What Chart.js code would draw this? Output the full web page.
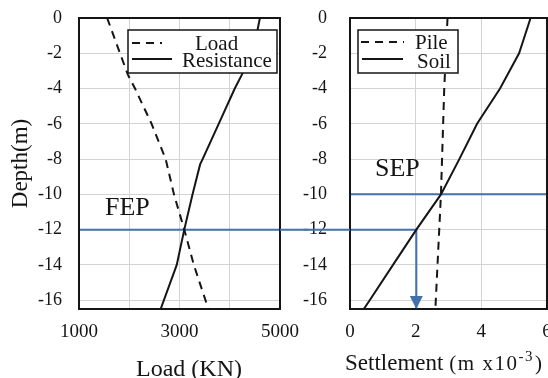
<!DOCTYPE html>
<html><head><meta charset="utf-8">
<script src="https://cdn.jsdelivr.net/npm/chart.js@4/dist/chart.umd.min.js"></script>
<style>
html,body{margin:0;padding:0;background:#fff;}
#wrap{position:relative;width:548px;height:378px;overflow:hidden;background:#fff;}
#c1{position:absolute;left:0;top:0;width:300px;height:378px;}
#c2{position:absolute;left:280px;top:0;width:268px;height:378px;}
</style></head><body>
<div id="wrap"><canvas id="c1" width="300" height="378"></canvas><canvas id="c2" width="268" height="378"></canvas></div>
<script>
// ---------- data ----------
const depthLoad      = [0, -3.2, -4, -6, -8, -10, -12, -14, -16.5];
const loadKN         = [1560, 1970, 2115, 2445, 2725, 2890, 3095, 3285, 3575];
const depthResist    = [0, -1, -2, -3, -4, -6, -8, -8.3, -10, -12, -14, -16.5];
const resistanceKN   = [4600, 4530, 4420, 4280, 4100, 3780, 3460, 3410, 3260, 3095, 2945, 2625];
const depthSoil      = [0, -2, -4, -6, -8, -10, -12, -14, -16, -16.5];
const soilSettle     = [5.5, 5.15, 4.57, 3.87, 3.33, 2.77, 2.02, 1.31, 0.6, 0.42];
const depthPile      = [0, -4, -10, -16.5];
const pileSettle     = [2.97, 2.87, 2.77, 2.6];
const depthTicks     = [0, -2, -4, -6, -8, -10, -12, -14, -16];
const loadGrid       = [1000, 2000, 3000, 4000, 5000];
const loadTickLabels = [1000, 3000, 5000];
const settleTicks    = [0, 2, 4, 6];
const depthRange     = [-16.5, 0];
const loadRange      = [1000, 5000];
const settleRange    = [0, 6];
const fepDepth = -12;      // FEP horizontal line
const sepDepth = -10;      // SEP horizontal line
const fepSettle = 2.02;    // settlement read at FEP depth (arrow)

// ---------- styles ----------
const FONT = "'Liberation Serif','Times New Roman',serif";
const BLACK = '#151515';
const BLUE = '#4271ad';
const GRID = '#d3d3d3';

function pts(xs, ys){ return xs.map((x,i)=>({x:x, y:ys[i]})); }
function fitTo(size, horiz){
  return function(s){
    if(horiz) s.height = size; else s.width = size;
    s.paddingLeft = 0; s.paddingRight = 0; s.paddingTop = 0; s.paddingBottom = 0;
  };
}
function lineDs(label, data, color, dash){
  return {label:label, data:data, showLine:true, borderColor:color, backgroundColor:color,
          borderWidth:2, borderDash:dash||[], pointRadius:0, pointHoverRadius:0, tension:0, fill:false};
}
function drawFrame(chart){
  const ctx = chart.ctx, a = chart.chartArea;
  ctx.save(); ctx.strokeStyle = BLACK; ctx.lineWidth = 2;
  ctx.strokeRect(a.left, a.top, a.right-a.left, a.bottom-a.top); ctx.restore();
}
function drawLegend(chart, box, items){
  const ctx = chart.ctx;
  ctx.save();
  ctx.fillStyle = '#fff'; ctx.fillRect(box.x, box.y, box.w, box.h);
  ctx.strokeStyle = BLACK; ctx.lineWidth = 1.5; ctx.strokeRect(box.x, box.y, box.w, box.h);
  items.forEach(it=>{
    const ds = chart.data.datasets[it.ds];
    ctx.beginPath(); ctx.setLineDash(ds.borderDash||[]); ctx.lineWidth = 2; ctx.strokeStyle = ds.borderColor;
    ctx.moveTo(it.lx0, it.ly); ctx.lineTo(it.lx1, it.ly); ctx.stroke();
    ctx.setLineDash([]);
    ctx.fillStyle = BLACK; ctx.font = '21px ' + FONT; ctx.textBaseline = 'alphabetic'; ctx.textAlign = 'left';
    ctx.fillText(ds.label, it.tx, it.ty);
  });
  ctx.restore();
}
function text(ctx, s, x, y, size, align){
  ctx.save(); ctx.fillStyle = BLACK; ctx.font = size + 'px ' + FONT;
  ctx.textAlign = align || 'left'; ctx.textBaseline = 'alphabetic'; ctx.fillText(s, x, y); ctx.restore();
}

// ---------- left chart: Load / Resistance ----------
const leftPlugin = {id:'leftDeco', afterDraw(chart){
  const ctx = chart.ctx, a = chart.chartArea;
  drawFrame(chart);
  drawLegend(chart, {x:a.left+49, y:a.top+12, w:149, h:43}, [
    {ds:0, lx0:a.left+53, lx1:a.left+83, ly:a.top+25, tx:a.left+116, ty:a.top+32},
    {ds:1, lx0:a.left+53, lx1:a.left+93, ly:a.top+41, tx:a.left+103, ty:a.top+49}
  ]);
  text(ctx, 'FEP', a.left+26, a.top+197, 26);
  text(ctx, 'Load (KN)', 189, 376, 24, 'center');
}};
new Chart(document.getElementById('c1'), {
  type:'scatter',
  data:{datasets:[
    lineDs('Load', pts(loadKN, depthLoad), BLACK, [8,6]),
    lineDs('Resistance', pts(resistanceKN, depthResist), BLACK),
    lineDs('FEP', pts(loadRange, [fepDepth, fepDepth]), BLUE)
  ]},
  options:{responsive:false, animation:false, events:[],
    layout:{padding:{top:18, right:20, bottom:0, left:0}},
    plugins:{legend:{display:false}, tooltip:{enabled:false}},
    scales:{
      x:{type:'linear', min:loadRange[0], max:loadRange[1],
        afterBuildTicks:s=>{ s.ticks = loadGrid.map(v=>({value:v})); },
        afterFit:fitTo(69, true),
        grid:{color:GRID, lineWidth:1, drawTicks:false},
        border:{display:false},
        ticks:{padding:12, color:BLACK, font:{family:FONT, size:19}, maxRotation:0, autoSkip:false,
          callback:v=> loadTickLabels.includes(v) ? String(v) : ''}},
      y:{type:'linear', min:depthRange[0], max:depthRange[1],
        afterBuildTicks:s=>{ s.ticks = depthTicks.map(v=>({value:v})); },
        afterFit:fitTo(79, false),
        grid:{color:GRID, lineWidth:1, drawTicks:false},
        border:{display:false},
        title:{display:true, text:'Depth(m)', color:BLACK, font:{family:FONT, size:23}, padding:{top:7, bottom:0}},
        ticks:{padding:17, color:BLACK, font:{family:FONT, size:18}, autoSkip:false, callback:v=>String(v)}}
    }},
  plugins:[leftPlugin]
});

// ---------- right chart: Pile / Soil settlement ----------
const rightPlugin = {id:'rightDeco', afterDraw(chart){
  const ctx = chart.ctx, a = chart.chartArea, xs = chart.scales.x, ys = chart.scales.y;
  drawFrame(chart);
  drawLegend(chart, {x:a.left+8, y:a.top+12, w:100, h:43}, [
    {ds:0, lx0:a.left+11, lx1:a.left+54, ly:a.top+24, tx:a.left+65, ty:a.top+31},
    {ds:1, lx0:a.left+12, lx1:a.left+53, ly:a.top+41, tx:a.left+67, ty:a.top+50}
  ]);
  text(ctx, 'SEP', a.left+25, a.top+158, 26);
  // FEP line continuing across the gap from the left panel
  const yF = ys.getPixelForValue(fepDepth);
  ctx.save(); ctx.strokeStyle = BLUE; ctx.lineWidth = 2;
  ctx.beginPath(); ctx.moveTo(0, yF); ctx.lineTo(a.left, yF); ctx.stroke();
  // arrow head at the bottom of the projection arrow
  const ax = xs.getPixelForValue(fepSettle), ay = ys.getPixelForValue(depthRange[0]);
  ctx.fillStyle = BLUE; ctx.beginPath();
  ctx.moveTo(ax, ay); ctx.lineTo(ax-6.5, ay-13); ctx.lineTo(ax+6.5, ay-13); ctx.closePath(); ctx.fill();
  ctx.restore();
  // axis title with superscript
  ctx.save(); ctx.fillStyle = BLACK; ctx.textBaseline = 'alphabetic'; ctx.textAlign = 'left';
  let x = 65; const y = 370;
  ctx.font = '23px ' + FONT; ctx.fillText('Settlement', x, y); x += ctx.measureText('Settlement').width + 6;
  ctx.font = '21px ' + FONT;
  if ('letterSpacing' in ctx) ctx.letterSpacing = '1.5px';
  ctx.fillText('(m x10', x, y); x += ctx.measureText('(m x10').width;
  ctx.font = '15px ' + FONT; ctx.fillText('-3', x, y-9); x += ctx.measureText('-3').width + 1;
  ctx.font = '21px ' + FONT; ctx.fillText(')', x, y);
  ctx.restore();
}};
new Chart(document.getElementById('c2'), {
  type:'scatter',
  data:{datasets:[
    lineDs('Pile', pts(pileSettle, depthPile), BLACK, [8,6]),
    lineDs('Soil', pts(soilSettle, depthSoil), BLACK),
    lineDs('SEP', pts(settleRange, [sepDepth, sepDepth]), BLUE),
    lineDs('FEP projection', pts([settleRange[0], fepSettle], [fepDepth, fepDepth]), BLUE),
    lineDs('Arrow', pts([fepSettle, fepSettle], [fepDepth, depthRange[0]]), BLUE)
  ]},
  options:{responsive:false, animation:false, events:[],
    layout:{padding:{top:18, right:1, bottom:0, left:0}},
    plugins:{legend:{display:false}, tooltip:{enabled:false}},
    scales:{
      x:{type:'linear', min:settleRange[0], max:settleRange[1],
        afterBuildTicks:s=>{ s.ticks = settleTicks.map(v=>({value:v})); },
        afterFit:fitTo(69, true),
        grid:{color:GRID, lineWidth:1, drawTicks:false},
        border:{display:false},
        ticks:{padding:12, color:BLACK, font:{family:FONT, size:19}, maxRotation:0, autoSkip:false, callback:v=>String(v)}},
      y:{type:'linear', min:depthRange[0], max:depthRange[1],
        afterBuildTicks:s=>{ s.ticks = depthTicks.map(v=>({value:v})); },
        afterFit:fitTo(70, false),
        grid:{color:GRID, lineWidth:1, drawTicks:false},
        border:{display:false},
        ticks:{padding:23, color:BLACK, font:{family:FONT, size:18}, autoSkip:false, callback:v=>String(v)}}
    }},
  plugins:[rightPlugin]
});
</script>
</body></html>
